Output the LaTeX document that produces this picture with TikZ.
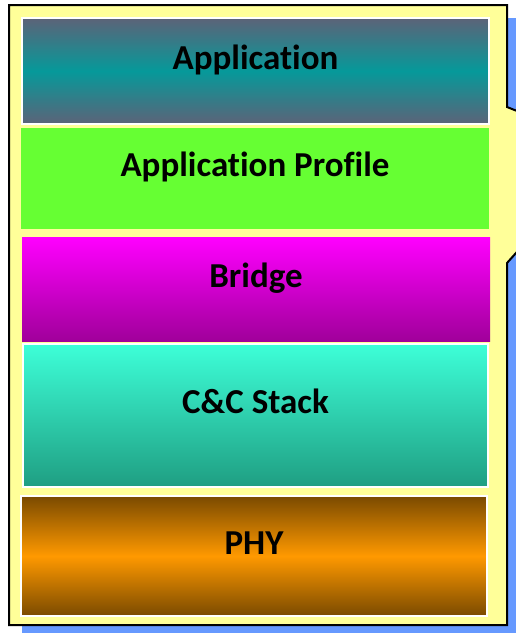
\documentclass[tikz,border=0pt]{standalone}
\usepackage{fontspec}
\setmainfont{Carlito}[RawFeature={-liga}]

\definecolor{calloutyellow}{HTML}{FFFF99}
\definecolor{shadowblue}{HTML}{6699FF}
\definecolor{appslate}{HTML}{5C6378}
\definecolor{appteal}{HTML}{06999A}
\definecolor{profilegreen}{HTML}{66FF33}
\definecolor{bridgetop}{HTML}{FF00FF}
\definecolor{bridgebottom}{HTML}{A0009A}
\definecolor{stacktop}{HTML}{3DFFD8}
\definecolor{stackbottom}{HTML}{1F9E82}
\definecolor{phybrown}{HTML}{7A4A00}
\definecolor{phyorange}{HTML}{FF9900}

\tikzstyle{layer}=[rectangle, inner sep=0pt]
\tikzstyle{framed}=[draw=white, line width=2.5pt]
\tikzstyle{caption}=[anchor=base, font=\bfseries\fontsize{35}{42}\selectfont]

\newcommand{\calloutpath}{(9,5) -- (507,5) -- (507,107) -- (610,148) -- (507,263) -- (507,625) -- (9,625) -- cycle}

\begin{document}
\begin{tikzpicture}[x=1pt,y=-1pt]
            \useasboundingbox (0,0) rectangle (516,633);
            \clip (0,0) rectangle (516,633);
            % callout with its shadow
            \fill[shadowblue, shift={(13,13)}] \calloutpath;
            \draw[fill=calloutyellow, line width=2pt] \calloutpath;
            % stack of layers
            \node[layer, framed, minimum width=467pt, minimum height=106pt, top color=appslate, bottom color=appslate, middle color=appteal] at (255.5,71) (app) {};
            \node[layer, fill=profilegreen, minimum width=468pt, minimum height=101pt] at (255,178.5) (profile) {};
            \node[layer, minimum width=468pt, minimum height=104pt, top color=bridgetop, bottom color=bridgebottom] at (256,289) (bridge) {};
            \node[layer, framed, minimum width=465pt, minimum height=143pt, top color=stacktop, bottom color=stackbottom] at (255.5,415.5) (stack) {};
            \node[layer, framed, minimum width=466pt, minimum height=120pt, top color=phybrown, bottom color=phybrown, middle color=phyorange] at (254,556) (phy) {};
            % captions
            \node[caption] at ([yshift=2pt]app.center) (appText) {Application};
            \node[caption] at ([yshift=2pt]profile.center) (profileText) {Application Profile};
            \node[caption] at ([yshift=2pt]bridge.center) (bridgeText) {Bridge};
            \node[caption] at ([yshift=2pt]stack.center) (stackText) {C\&C Stack};
            \node[caption] at ([yshift=2pt]phy.center) (phyText) {PHY};
        \end{tikzpicture}
\end{document}
